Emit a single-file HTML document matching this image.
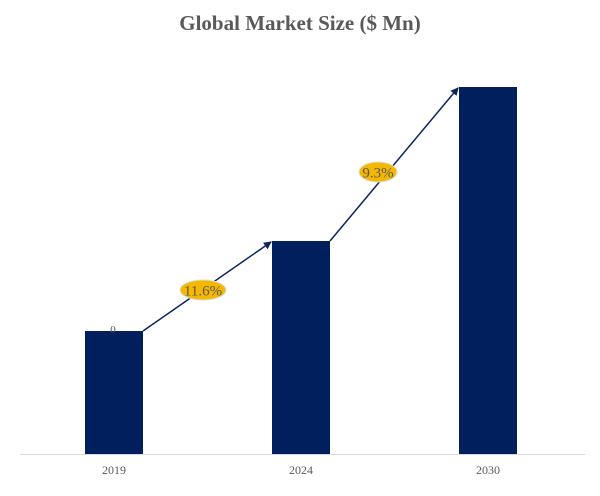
<!DOCTYPE html>
<html><head><meta charset="utf-8"><style>
body{margin:0;background:#fff;}
</style></head><body>
<svg width="600" height="491" viewBox="0 0 600 491" xmlns="http://www.w3.org/2000/svg" font-family="Liberation Serif, serif">
<defs><marker id="a" markerWidth="8" markerHeight="8" refX="7" refY="4" orient="auto" markerUnits="userSpaceOnUse"><path d="M0,0 L8,4 L0,8 z" fill="#0c2461"/></marker></defs>
<text x="300" y="30" text-anchor="middle" font-size="21" font-weight="bold" fill="#595959">Global Market Size ($ Mn)</text>
<line x1="20" y1="454.5" x2="585" y2="454.5" stroke="#d9d9d9" stroke-width="1"/>
<rect x="85" y="331" width="58" height="123" fill="#001f5c"/>
<rect x="272" y="241" width="58" height="213" fill="#001f5c"/>
<rect x="459" y="87" width="58" height="367" fill="#001f5c"/>
<text x="113" y="333" text-anchor="middle" font-size="11" fill="#595959">0</text>
<line x1="143" y1="331" x2="271" y2="242" stroke="#0c2461" stroke-width="1.5" marker-end="url(#a)"/>
<line x1="330" y1="241" x2="458" y2="88" stroke="#0c2461" stroke-width="1.5" marker-end="url(#a)"/>
<ellipse cx="203" cy="290" rx="23" ry="10" fill="#f5b800" stroke="#ddd"/>
<text x="203" y="295.5" text-anchor="middle" font-size="15" fill="#595959">11.6%</text>
<ellipse cx="378" cy="172" rx="19" ry="10" fill="#f5b800" stroke="#ddd"/>
<text x="378" y="177.5" text-anchor="middle" font-size="15" fill="#595959">9.3%</text>
<g font-size="12" fill="#595959" text-anchor="middle">
<text x="114" y="474">2019</text><text x="301" y="474">2024</text><text x="488" y="474">2030</text>
</g>
</svg>
</body></html>
